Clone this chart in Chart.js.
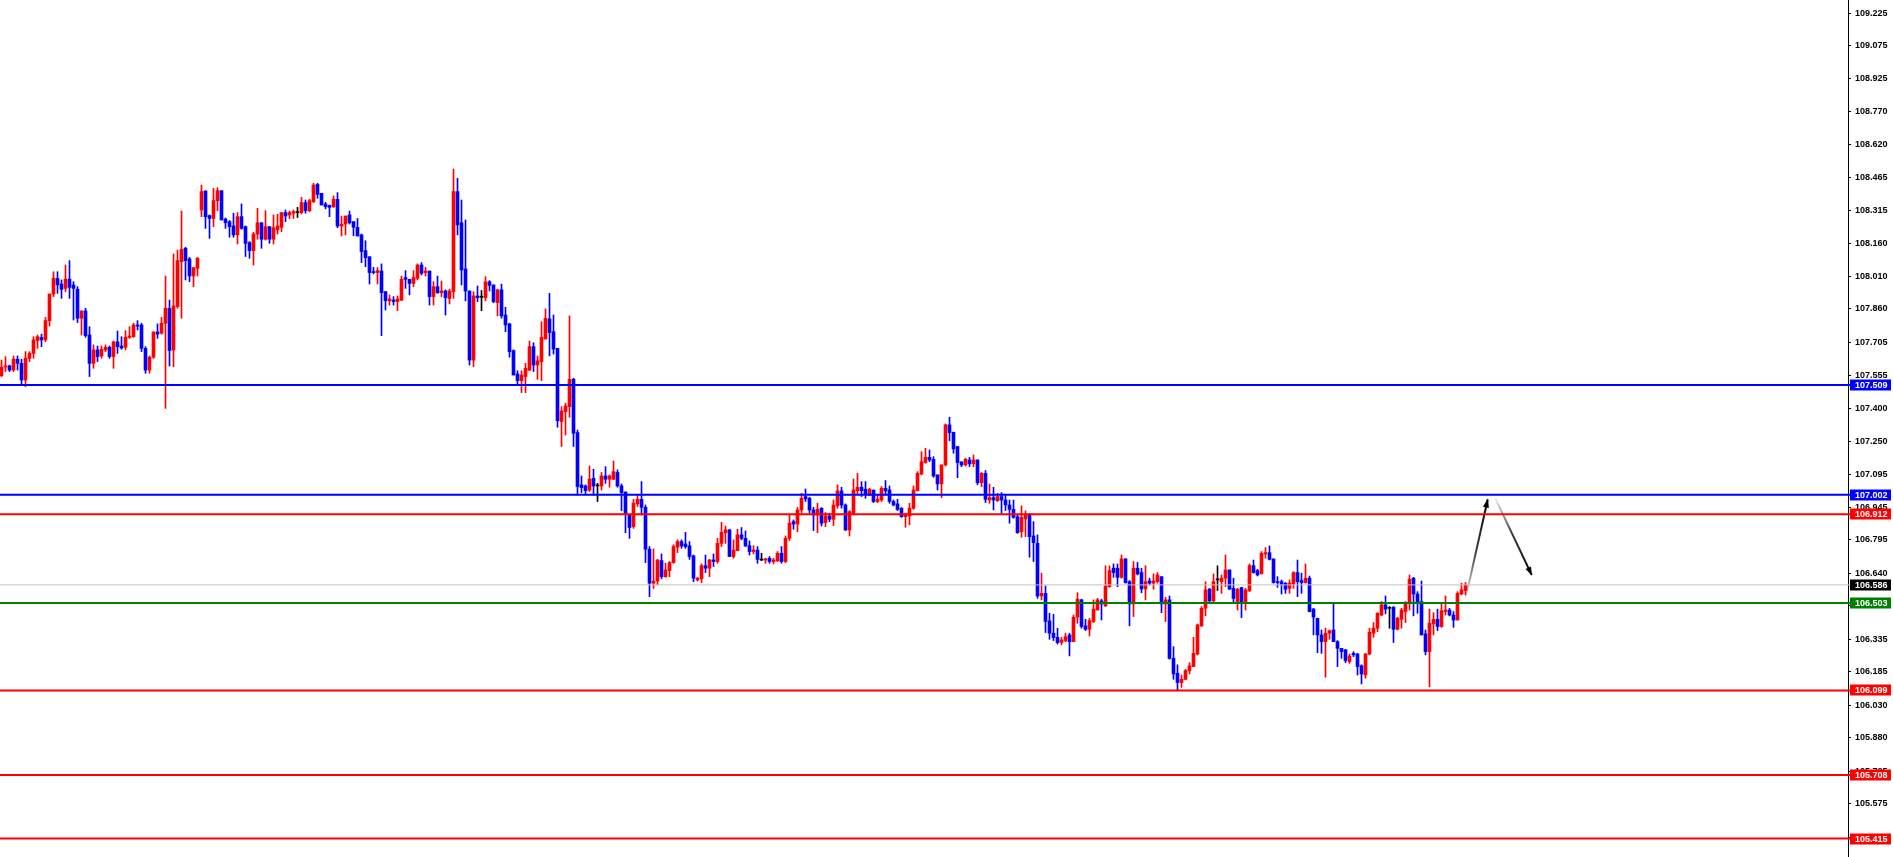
<!DOCTYPE html>
<html><head><meta charset="utf-8">
<script src="https://cdn.jsdelivr.net/npm/chart.js@4/dist/chart.umd.min.js"></script>
<style>html,body{margin:0;padding:0;background:#fff;overflow:hidden}canvas{display:block}</style>
</head><body>
<canvas id="c" width="1893" height="857"></canvas>
<script>
const openPrices=[
107.552,107.592,107.597,107.578,107.628,107.609,107.532,107.632,107.655,107.714,
107.729,107.717,107.806,107.929,108.001,107.975,107.955,107.998,107.971,107.951,
107.817,107.851,107.740,107.609,107.671,107.643,107.671,107.683,107.640,107.708,
107.689,107.683,107.729,107.732,107.786,107.786,107.678,107.578,107.637,107.754,
107.748,107.794,107.863,107.671,107.871,108.078,108.140,108.091,108.012,108.048,
108.317,108.405,108.291,108.278,108.360,108.406,108.275,108.263,108.243,108.202,
108.286,108.240,108.166,108.129,108.206,108.258,108.182,108.240,108.182,108.225,
108.237,108.305,108.294,108.302,108.305,108.305,108.351,108.314,108.355,108.435,
108.394,108.345,108.338,108.332,108.366,108.243,108.252,108.294,108.263,108.237,
108.202,108.129,108.101,108.032,108.028,108.035,107.940,107.898,107.901,107.894,
107.901,108.005,107.997,107.978,108.002,108.063,108.028,108.035,107.917,107.963,
107.935,107.943,107.908,107.940,108.402,108.258,108.045,107.943,107.624,107.920,
107.914,107.912,107.985,107.971,107.889,107.948,107.832,107.791,107.668,107.560,
107.529,107.548,107.578,107.686,107.601,107.617,107.721,107.814,107.755,107.678,
107.340,107.386,107.409,107.535,107.289,107.048,107.043,107.024,107.078,107.043,
107.043,107.089,107.074,107.074,107.105,107.043,107.015,106.909,106.855,106.960,
106.981,106.944,106.751,106.594,106.604,106.698,106.624,106.652,106.689,106.760,
106.786,106.775,106.766,106.720,106.609,106.614,106.675,106.663,106.701,106.694,
106.778,106.827,106.840,106.717,106.744,106.817,106.801,106.767,106.740,106.747,
106.701,106.701,106.709,106.694,106.697,106.732,106.694,106.801,106.878,106.867,
106.932,106.994,106.986,106.932,106.909,106.940,106.874,106.904,106.889,106.951,
107.020,106.955,106.840,106.917,107.021,107.037,107.028,107.006,107.024,106.971,
106.978,107.032,107.024,106.971,106.960,106.940,106.901,106.904,106.940,107.021,
107.098,107.151,107.175,107.166,107.094,107.052,107.140,107.325,107.291,107.225,
107.154,107.140,107.163,107.145,107.163,107.058,107.101,106.978,106.989,106.975,
106.994,106.978,106.955,106.935,106.901,106.832,106.891,106.909,106.812,106.778,
106.535,106.547,106.420,106.363,106.344,106.320,106.329,106.355,106.324,106.437,
106.517,106.397,106.381,106.417,106.470,106.512,106.489,106.578,106.663,106.663,
106.621,106.706,106.601,106.498,106.663,106.643,106.567,106.604,106.594,106.601,
106.624,106.498,106.517,106.247,106.178,106.135,106.150,106.190,106.209,106.267,
106.397,106.478,106.566,106.512,106.609,106.601,106.617,106.655,106.570,106.509,
106.574,106.509,106.560,106.675,106.652,106.637,106.729,106.735,106.706,106.601,
106.601,106.594,106.570,106.590,106.643,106.606,106.597,106.617,106.474,106.432,
106.355,106.324,106.363,106.378,106.324,106.293,106.286,106.232,106.270,106.267,
106.213,106.170,106.267,106.363,106.386,106.447,106.494,106.478,106.483,106.381,
106.427,106.463,106.504,106.617,106.544,106.509,106.360,106.278,106.406,106.427,
106.394,106.463,106.470,106.447,106.424,106.544,106.560];
const highPrices=[
107.624,107.640,107.601,107.643,107.643,107.628,107.663,107.663,107.732,107.740,
107.744,107.821,107.929,108.032,108.032,107.994,108.063,108.083,107.986,107.963,
107.851,107.863,107.778,107.694,107.689,107.689,107.694,107.689,107.712,107.758,
107.732,107.760,107.778,107.794,107.806,107.794,107.686,107.643,107.754,107.791,
107.821,108.012,107.901,108.114,108.132,108.312,108.145,108.098,108.051,108.098,
108.432,108.405,108.294,108.417,108.420,108.406,108.280,108.268,108.302,108.305,
108.345,108.243,108.171,108.214,108.325,108.258,108.314,108.240,108.294,108.297,
108.305,108.317,108.312,108.317,108.329,108.375,108.363,108.366,108.440,108.440,
108.394,108.352,108.340,108.382,108.397,108.289,108.289,108.312,108.263,108.278,
108.206,108.175,108.101,108.052,108.051,108.068,107.940,107.925,107.917,107.920,
108.012,108.037,107.997,108.037,108.068,108.074,108.052,108.035,107.986,108.012,
107.989,107.948,107.951,108.506,108.463,108.363,108.271,107.943,107.940,107.966,
107.945,108.009,107.991,107.971,107.951,107.975,107.868,107.794,107.671,107.575,
107.575,107.609,107.712,107.704,107.643,107.801,107.860,107.932,107.832,107.678,
107.409,107.425,107.828,107.540,107.301,107.089,107.048,107.135,107.120,107.055,
107.105,107.132,107.094,107.158,107.117,107.052,107.015,106.909,106.981,107.001,
107.063,106.955,106.763,106.752,106.704,106.729,106.686,106.694,106.771,106.794,
106.794,106.829,106.786,106.724,106.621,106.683,106.724,106.704,106.729,106.801,
106.875,106.858,106.843,106.794,106.843,106.851,106.835,106.789,106.767,106.763,
106.732,106.709,106.717,106.709,106.740,106.763,106.812,106.912,106.886,106.944,
107.009,107.029,106.991,106.944,106.963,106.943,106.920,106.917,106.978,107.048,
107.037,106.960,106.929,107.075,107.101,107.063,107.063,107.032,107.024,107.001,
107.040,107.068,107.043,106.978,106.981,106.943,106.917,106.963,107.043,107.109,
107.201,107.217,107.209,107.178,107.094,107.140,107.329,107.360,107.291,107.225,
107.155,107.171,107.175,107.186,107.163,107.105,107.114,107.052,107.037,107.009,
107.012,107.001,106.978,106.978,106.909,106.951,106.928,106.917,106.878,106.817,
106.640,106.581,106.455,106.450,106.386,106.344,106.363,106.363,106.447,106.550,
106.520,106.427,106.432,106.517,106.524,106.520,106.674,106.674,106.683,106.683,
106.724,106.707,106.606,106.694,106.690,106.663,106.675,106.617,106.637,106.643,
106.624,106.529,106.535,106.301,106.217,106.170,106.196,106.227,106.344,106.406,
106.486,106.601,106.570,106.637,106.674,106.632,106.724,106.655,106.617,106.570,
106.574,106.570,106.683,106.701,106.658,106.740,106.758,106.766,106.706,106.624,
106.609,106.597,106.609,106.647,106.701,106.640,106.683,106.627,106.478,106.432,
106.378,106.386,106.378,106.501,106.329,106.293,106.289,106.267,106.278,106.270,
106.217,106.270,106.386,106.412,106.458,106.509,106.535,106.486,106.486,106.437,
106.478,106.509,106.632,106.621,106.555,106.604,106.378,106.474,106.458,106.474,
106.504,106.535,106.478,106.463,106.555,106.594,106.597];
const lowPrices=[
107.548,107.571,107.571,107.571,107.578,107.509,107.501,107.617,107.632,107.678,
107.686,107.709,107.781,107.917,107.932,107.909,107.940,107.909,107.809,107.797,
107.740,107.729,107.548,107.586,107.617,107.632,107.663,107.632,107.586,107.655,
107.674,107.671,107.724,107.729,107.763,107.663,107.563,107.563,107.632,107.724,
107.744,107.401,107.597,107.594,107.863,107.817,107.994,107.986,107.963,108.012,
108.286,108.232,108.186,108.240,108.314,108.271,108.232,108.191,108.191,108.160,
108.228,108.102,108.094,108.063,108.182,108.140,108.178,108.163,108.160,108.206,
108.217,108.263,108.277,108.278,108.282,108.299,108.302,108.309,108.351,108.371,
108.340,108.322,108.286,108.328,108.235,108.197,108.202,108.252,108.198,108.197,
108.074,108.055,107.975,108.022,107.975,107.737,107.855,107.878,107.878,107.852,
107.898,107.955,107.925,107.963,107.994,108.017,108.012,107.878,107.878,107.932,
107.917,107.832,107.883,107.909,108.202,107.971,107.897,107.601,107.594,107.894,
107.852,107.897,107.943,107.889,107.828,107.817,107.755,107.637,107.555,107.509,
107.474,107.474,107.575,107.571,107.535,107.529,107.721,107.643,107.652,107.314,
107.225,107.278,107.360,107.225,107.001,107.012,107.001,107.017,107.001,106.971,
107.024,107.055,107.037,107.071,107.037,106.929,106.827,106.801,106.847,106.948,
106.909,106.689,106.532,106.570,106.586,106.614,106.621,106.624,106.686,106.735,
106.755,106.755,106.704,106.601,106.604,106.597,106.643,106.624,106.671,106.686,
106.763,106.778,106.717,106.709,106.744,106.794,106.763,106.724,106.729,106.686,
106.698,106.686,106.686,106.683,106.694,106.686,106.689,106.791,106.843,106.832,
106.917,106.971,106.917,106.837,106.827,106.858,106.855,106.878,106.860,106.940,
106.940,106.837,106.812,106.914,107.006,106.994,106.986,106.997,106.966,106.966,
106.971,107.001,106.963,106.951,106.929,106.898,106.852,106.863,106.935,107.020,
107.094,107.148,107.155,107.083,107.024,106.989,107.135,107.252,107.194,107.081,
107.132,107.135,107.132,107.132,107.048,107.040,106.966,106.963,106.932,106.971,
106.917,106.929,106.871,106.894,106.824,106.806,106.809,106.714,106.694,106.524,
106.517,106.366,106.335,106.329,106.313,106.309,106.324,106.258,106.324,106.409,
106.386,106.375,106.350,106.412,106.470,106.424,106.486,106.575,106.621,106.578,
106.617,106.594,106.397,106.440,106.632,106.550,106.517,106.586,106.566,106.594,
106.458,106.417,106.243,106.150,106.097,106.113,106.147,106.175,106.209,106.263,
106.394,106.443,106.509,106.509,106.560,106.547,106.578,106.566,106.509,106.470,
106.435,106.470,106.555,106.640,106.627,106.637,106.709,106.701,106.594,106.575,
106.544,106.547,106.547,106.570,106.532,106.547,106.594,106.461,106.355,106.273,
106.270,106.160,106.335,106.324,106.209,106.247,106.227,106.224,106.255,106.170,
106.129,106.155,106.263,106.344,106.370,106.443,106.452,106.386,106.320,106.378,
106.386,106.412,106.470,106.443,106.455,106.355,106.263,106.116,106.355,106.375,
106.390,106.447,106.443,106.390,106.424,106.540,106.540];
const closePrices=[
107.591,107.597,107.578,107.628,107.609,107.532,107.632,107.655,107.717,107.732,
107.717,107.806,107.929,108.001,107.971,107.951,107.998,107.960,107.955,107.817,
107.851,107.737,107.609,107.671,107.640,107.674,107.683,107.640,107.708,107.686,
107.680,107.729,107.735,107.786,107.781,107.678,107.578,107.637,107.754,107.744,
107.794,107.863,107.668,107.874,108.083,108.135,108.083,108.012,108.051,108.094,
108.402,108.286,108.278,108.360,108.406,108.271,108.258,108.240,108.202,108.286,
108.232,108.163,108.129,108.206,108.258,108.182,108.240,108.182,108.235,108.243,
108.305,108.289,108.305,108.309,108.305,108.351,108.314,108.360,108.432,108.389,
108.340,108.332,108.329,108.366,108.243,108.252,108.289,108.258,108.237,108.197,
108.125,108.097,108.028,108.028,108.037,107.935,107.898,107.906,107.894,107.906,
107.997,107.997,107.978,108.005,108.063,108.025,108.035,107.917,107.963,107.935,
107.943,107.912,107.943,108.402,108.248,108.040,107.943,107.624,107.920,107.912,
107.914,107.985,107.969,107.894,107.948,107.828,107.786,107.663,107.555,107.529,
107.555,107.586,107.686,107.601,107.621,107.729,107.817,107.751,107.675,107.344,
107.389,107.412,107.535,107.286,107.040,107.035,107.021,107.074,107.043,107.043,
107.089,107.074,107.089,107.109,107.043,107.012,106.917,106.851,106.963,106.981,
106.944,106.751,106.594,106.604,106.701,106.624,106.655,106.689,106.763,106.786,
106.766,106.763,106.717,106.617,106.617,106.675,106.663,106.701,106.694,106.778,
106.829,106.840,106.717,106.747,106.817,106.801,106.766,106.740,106.747,106.704,
106.701,106.706,106.694,106.701,106.732,106.694,106.801,106.871,106.867,106.932,
106.986,106.983,106.932,106.909,106.935,106.871,106.904,106.889,106.955,107.020,
106.955,106.840,106.924,107.024,107.037,107.021,107.006,107.028,106.971,106.981,
107.032,107.020,106.971,106.955,106.935,106.901,106.912,106.940,107.024,107.101,
107.155,107.175,107.163,107.089,107.052,107.140,107.325,107.289,107.214,107.151,
107.140,107.166,107.145,107.163,107.058,107.101,106.981,106.989,106.978,106.994,
106.978,106.955,106.935,106.898,106.827,106.898,106.909,106.809,106.781,106.535,
106.547,106.417,106.363,106.343,106.320,106.332,106.347,106.324,106.437,106.520,
106.394,106.381,106.421,106.474,106.517,106.498,106.581,106.652,106.643,106.621,
106.706,106.597,106.498,106.663,106.637,106.567,106.601,106.594,106.604,106.632,
106.498,106.517,106.247,106.175,106.135,106.150,106.190,106.212,106.270,106.401,
106.478,106.563,106.512,106.601,106.609,106.617,106.655,106.566,106.524,106.566,
106.509,106.563,106.675,106.643,106.632,106.732,106.735,106.704,106.597,106.597,
106.589,106.566,106.594,106.643,106.601,106.597,106.617,106.463,106.437,106.355,
106.324,106.363,106.375,106.324,106.293,106.278,106.237,106.258,106.263,106.209,
106.175,106.267,106.367,106.386,106.455,106.494,106.474,106.478,106.381,106.432,
106.470,106.504,106.612,106.544,106.504,106.355,106.278,106.409,106.427,106.394,
106.467,106.470,106.447,106.424,106.547,106.563,106.586];

const yTickValues=[109.225,109.075,108.925,108.770,108.620,108.465,108.315,108.160,108.010,107.860,107.705,107.555,107.400,107.250,107.095,106.945,106.795,106.640,106.490,106.335,106.185,106.030,105.880,105.725,105.575,105.420];
const yMin=105.3298, yMax=109.2864;
const levelValues=[107.509,107.002,106.912,106.586,106.503,106.099,105.708,105.415];
const levelColors=['#0000ff','#0000ff','#ff0000','#c0c0c0','#008000','#ff0000','#ff0000','#ff0000'];
const levelLabelBg=['#0000ff','#0000ff','#ff0000','#000000','#008000','#ff0000','#ff0000','#ff0000'];
const levelWidths=[2,2,2,1,2,2,2,2];
const arrowUpPoints=[{x:366.05,y:106.526},{x:371.55,y:106.980}];
const arrowDownPoints=[{x:373.4,y:106.987},{x:382.55,y:106.632}];

const UP='#ff0000', DOWN='#0000ff', DOJI='#000000';
const candleColors=openPrices.map((o,i)=>closePrices[i]>o?UP:(closePrices[i]<o?DOWN:DOJI));
const wickData=openPrices.map((o,i)=>({x:i,y:[lowPrices[i],highPrices[i]]}));
const bodyData=openPrices.map((o,i)=>({x:i,y:[o,closePrices[i]]}));
const xMin=-0.375, xMax=461.625;
const FONT='"Liberation Sans", Arial, sans-serif';

const datasets=[];
levelValues.forEach((v,k)=>{
  datasets.push({type:'line',data:[{x:xMin,y:v},{x:462.4,y:v}],borderColor:levelColors[k],borderWidth:levelWidths[k],pointRadius:0,clip:false,order:0,fill:false,tension:0});
});
function arrowGradient(pts,ctx){
  const chart=ctx.chart;
  if(!chart.chartArea) return '#000';
  const xs=chart.scales.x, ys=chart.scales.y;
  const g=chart.ctx.createLinearGradient(xs.getPixelForValue(pts[0].x),ys.getPixelForValue(pts[0].y),xs.getPixelForValue(pts[1].x),ys.getPixelForValue(pts[1].y));
  g.addColorStop(0,'rgba(0,0,0,0.05)');
  g.addColorStop(0.45,'rgba(0,0,0,0.75)');
  g.addColorStop(1,'rgba(0,0,0,1)');
  return g;
}
datasets.push({type:'line',data:arrowUpPoints,borderColor:(c)=>arrowGradient(arrowUpPoints,c),borderWidth:2,pointRadius:0,order:1,fill:false,tension:0,arrowHead:true});
datasets.push({type:'line',data:arrowDownPoints,borderColor:(c)=>arrowGradient(arrowDownPoints,c),borderWidth:2,pointRadius:0,order:1,fill:false,tension:0,arrowHead:true});
datasets.push({type:'bar',data:bodyData,backgroundColor:candleColors,borderWidth:0,barThickness:3,grouped:false,minBarLength:1,order:2});
datasets.push({type:'bar',data:wickData,backgroundColor:candleColors,borderWidth:0,barThickness:1,grouped:false,order:3});

const arrowHeadPlugin={
  id:'arrowHeads',
  afterDatasetsDraw(chart){
    const ctx=chart.ctx;
    chart.data.datasets.forEach((ds,i)=>{
      if(!ds.arrowHead) return;
      const pts=chart.getDatasetMeta(i).data;
      if(pts.length<2) return;
      const a=pts[pts.length-2], b=pts[pts.length-1];
      const ang=Math.atan2(b.y-a.y,b.x-a.x);
      const L=8, W=3;
      ctx.save();
      ctx.fillStyle='#000';
      ctx.beginPath();
      ctx.moveTo(b.x+Math.cos(ang)*1,b.y+Math.sin(ang)*1);
      ctx.lineTo(b.x-Math.cos(ang)*L+Math.sin(ang)*W,b.y-Math.sin(ang)*L-Math.cos(ang)*W);
      ctx.lineTo(b.x-Math.cos(ang)*L-Math.sin(ang)*W,b.y-Math.sin(ang)*L+Math.cos(ang)*W);
      ctx.closePath();
      ctx.fill();
      ctx.restore();
    });
  }
};
const levelLabelPlugin={
  id:'levelLabels',
  afterDraw(chart){
    const ctx=chart.ctx, ys=chart.scales.y;
    const left=chart.chartArea.right+2;
    ctx.save();
    ctx.font='bold 9px '+FONT;
    ctx.textBaseline='middle';
    ctx.textAlign='left';
    levelValues.forEach((v,k)=>{
      const y=Math.round(ys.getPixelForValue(v));
      ctx.fillStyle=levelLabelBg[k];
      ctx.fillRect(left,y-5.5,41,11);
      ctx.fillStyle='#ffffff';
      ctx.fillText(v.toFixed(3),left+5,y+0.5);
    });
    ctx.restore();
  }
};

new Chart(document.getElementById('c'),{
  type:'bar',
  data:{datasets},
  options:{
    responsive:false,animation:false,events:[],
    layout:{padding:0},
    plugins:{legend:{display:false},tooltip:{enabled:false}},
    scales:{
      x:{type:'linear',display:false,min:xMin,max:xMax,offset:false,grid:{display:false}},
      y:{type:'linear',position:'right',min:yMin,max:yMax,beginAtZero:false,
        afterBuildTicks:(s)=>{s.ticks=yTickValues.map(v=>({value:v}));},
        afterFit:(s)=>{s.width=45;s.paddingTop=0;s.paddingBottom=0;},
        ticks:{color:'#000',font:{family:FONT,size:9,weight:'bold'},padding:4,autoSkip:false,maxRotation:0,callback:(v)=>Number(v).toFixed(3)},
        grid:{drawOnChartArea:false,drawTicks:true,tickLength:3,color:'#000'},
        border:{display:true,color:'#000',width:1}
      }
    }
  },
  plugins:[arrowHeadPlugin,levelLabelPlugin]
});
</script>
</body></html>
